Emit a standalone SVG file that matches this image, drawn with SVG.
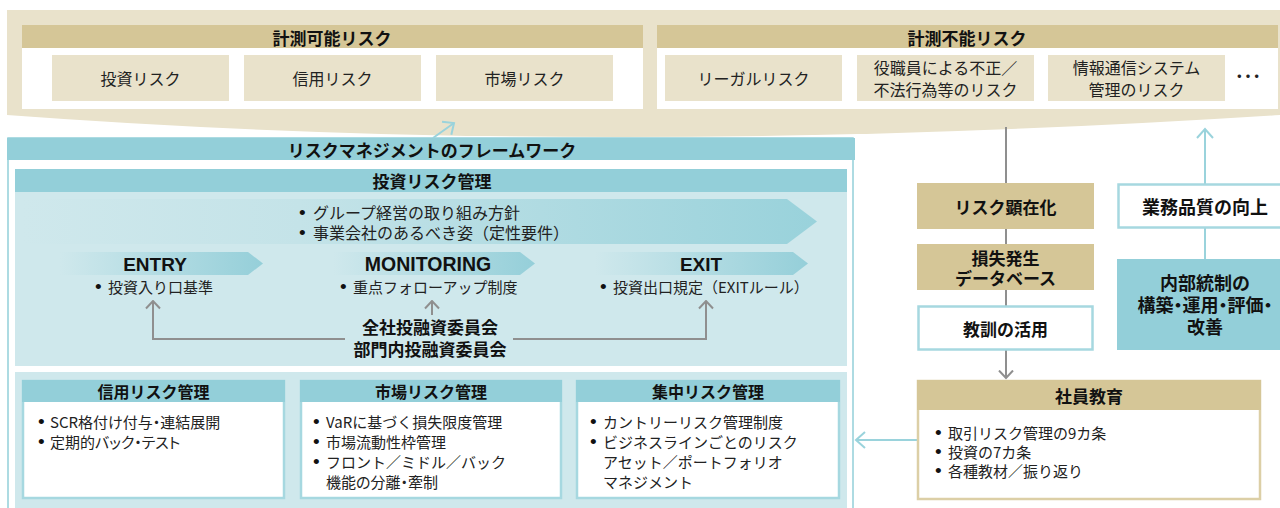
<svg xmlns="http://www.w3.org/2000/svg" width="1280" height="508" viewBox="0 0 1280 508">
<defs>
<style>
.t{font-family:"Noto Sans CJK JP","Noto Sans",sans-serif;fill:#222;}
.b{font-weight:bold;fill:#111;}
.c{text-anchor:middle;}
.p{font-feature-settings:"palt";}
.bl{font-family:"Liberation Sans",Arial,sans-serif;font-size:19px;fill:#111;}
.en{font-family:"Liberation Sans",Arial,sans-serif;font-weight:bold;fill:#111;text-anchor:middle;}
.band{fill:#E9E2CB;}
.tan{fill:#D5C697;}
.item{fill:#E9E2CB;}
.teal{fill:#93CFD9;}
.lteal{fill:#CFE8EC;}
.wbox{fill:#fff;stroke:#A6D8E0;stroke-width:2.5;}
.gline{fill:none;stroke:#8F8F8F;stroke-width:2;}
.tline{fill:none;stroke:#9AD3DC;stroke-width:2;}
</style>
<linearGradient id="bigG" x1="0" y1="0" x2="1" y2="0">
<stop offset="0" stop-color="#CFE8EC"/>
<stop offset="0.35" stop-color="#C4E3E8"/>
<stop offset="1" stop-color="#99D2DB"/>
</linearGradient>
<linearGradient id="chG" x1="0" y1="0" x2="1" y2="0">
<stop offset="0" stop-color="#CFE8EC"/>
<stop offset="1" stop-color="#95CFD9"/>
</linearGradient>
<marker id="ag" viewBox="0 0 10 16" refX="8.5" refY="8" markerWidth="10" markerHeight="16" markerUnits="userSpaceOnUse" orient="auto">
<path d="M1,1 L8.5,8 L1,15" fill="none" stroke="#8F8F8F" stroke-width="2"/>
</marker>
<marker id="at" viewBox="0 0 12 18" refX="10" refY="9" markerWidth="12" markerHeight="18" markerUnits="userSpaceOnUse" orient="auto">
<path d="M1,1 L10,9 L1,17" fill="none" stroke="#9AD3DC" stroke-width="2"/>
</marker>
</defs>
<rect width="1280" height="508" fill="#fff"/>

<!-- top band -->
<g id="top-band">
<path class="band" d="M7,10 H1280 V115 Q596,159 7,115 Z"/>
</g>
<g id="measurable">
<rect x="22" y="25" width="621" height="84" fill="#fff"/>
<rect class="tan" x="22" y="25" width="621" height="23"/>
<text class="t b c" x="332" y="37" font-size="17" dominant-baseline="central">計測可能リスク</text>
</g>
<g id="invest-risk"><rect class="item" x="52" y="55" width="177" height="46"/><text class="t c" x="140.5" y="78" font-size="16" dominant-baseline="central">投資リスク</text></g>
<g id="credit-risk"><rect class="item" x="244" y="55" width="177" height="46"/><text class="t c" x="332.5" y="78" font-size="16" dominant-baseline="central">信用リスク</text></g>
<g id="market-risk"><rect class="item" x="436" y="55" width="177" height="46"/><text class="t c" x="524.5" y="78" font-size="16" dominant-baseline="central">市場リスク</text></g>
<g id="unmeasurable">
<rect x="657" y="25" width="621" height="84" fill="#fff"/>
<rect class="tan" x="657" y="25" width="621" height="23"/>
<text class="t b c" x="967" y="37" font-size="17" dominant-baseline="central">計測不能リスク</text>
</g>
<g id="legal-risk"><rect class="item" x="665" y="55" width="177" height="46"/><text class="t c" x="753.5" y="78" font-size="16" dominant-baseline="central">リーガルリスク</text></g>
<g id="fraud-risk"><rect class="item" x="857" y="55" width="177" height="46"/><text class="t c" x="945.5" y="67" font-size="16" dominant-baseline="central">役職員による不正／</text><text class="t c" x="945.5" y="89" font-size="16" dominant-baseline="central">不法行為等のリスク</text></g>
<g id="it-risk"><rect class="item" x="1048" y="55" width="177" height="46"/><text class="t c" x="1136.5" y="67" font-size="16" dominant-baseline="central">情報通信システム</text><text class="t c" x="1136.5" y="89" font-size="16" dominant-baseline="central">管理のリスク</text></g>
<g id="etc"><text class="t c" x="1248" y="74" font-size="26" dominant-baseline="central">…</text></g>

<!-- framework -->
<g id="framework">
<rect x="8" y="138" width="845" height="380" fill="#fff" stroke="#93CFD9" stroke-width="1.5"/>
<rect class="teal" x="7" y="138" width="848" height="22"/>
<text class="t b c" x="432" y="149" font-size="17" dominant-baseline="central">リスクマネジメントのフレームワーク</text>
</g>
<g id="invest-mgmt">
<rect class="lteal" x="15" y="169" width="832" height="197"/>
<rect class="teal" x="15" y="169" width="832" height="23"/>
<text class="t b c" x="432" y="180.5" font-size="17" dominant-baseline="central">投資リスク管理</text>
<path fill="url(#bigG)" d="M22,199 H787 L817,221.5 L787,244 H22 Z"/>
<text class="t" x="299" y="212" font-size="16" dominant-baseline="central"><tspan class="bl">•</tspan><tspan x="313">グループ経営の取り組み方針</tspan></text>
<text class="t" x="299" y="232" font-size="16" dominant-baseline="central"><tspan class="bl">•</tspan><tspan x="313">事業会社のあるべき姿（定性要件）</tspan></text>
</g>
<g id="entry">
<path fill="url(#chG)" d="M60,252 H248 L263,263.5 L248,275 H60 Z"/>
<text class="en" x="155" y="270.5" font-size="19">ENTRY</text>
<text class="t" x="95" y="286" font-size="15" dominant-baseline="central"><tspan class="bl">•</tspan><tspan x="108">投資入り口基準</tspan></text>
</g>
<g id="monitoring">
<path fill="url(#chG)" d="M333,252 H520 L535,263.5 L520,275 H333 Z"/>
<text class="en" x="428" y="270.5" font-size="19.5">MONITORING</text>
<text class="t" x="340" y="286" font-size="15" dominant-baseline="central"><tspan class="bl">•</tspan><tspan x="353">重点フォローアップ制度</tspan></text>
</g>
<g id="exit">
<path fill="url(#chG)" d="M595,252 H793 L808,263.5 L793,275 H595 Z"/>
<text class="en" x="701" y="270.5" font-size="19">EXIT</text>
<text class="t" x="600" y="286" font-size="15" dominant-baseline="central"><tspan class="bl">•</tspan><tspan x="613">投資出口規定（EXITルール）</tspan></text>
</g>
<g id="committee">
<text class="t b c" x="430" y="326" font-size="17" dominant-baseline="central">全社投融資委員会</text>
<text class="t b c" x="430" y="348" font-size="17" dominant-baseline="central">部門内投融資委員会</text>
</g>
<g id="lower-panel"><rect class="lteal" x="15" y="372" width="832" height="140"/></g>
<g id="credit-mgmt">
<rect class="wbox" x="23" y="381" width="261" height="117"/>
<rect class="teal" x="22" y="380" width="263" height="22"/>
<text class="t b c" x="153.5" y="391" font-size="16" dominant-baseline="central">信用リスク管理</text>
<text class="t p" x="38" y="421" font-size="15" dominant-baseline="central"><tspan class="bl">•</tspan><tspan x="50">SCR格付け付与・連結展開</tspan></text>
<text class="t p" x="38" y="441" font-size="15" dominant-baseline="central"><tspan class="bl">•</tspan><tspan x="50">定期的バック・テスト</tspan></text>
</g>
<g id="market-mgmt">
<rect class="wbox" x="301" y="381" width="260" height="117"/>
<rect class="teal" x="300" y="380" width="262" height="22"/>
<text class="t b c" x="431" y="391" font-size="16" dominant-baseline="central">市場リスク管理</text>
<text class="t" x="313" y="421" font-size="15" dominant-baseline="central"><tspan class="bl">•</tspan><tspan x="326">VaRに基づく損失限度管理</tspan></text>
<text class="t" x="313" y="441" font-size="15" dominant-baseline="central"><tspan class="bl">•</tspan><tspan x="326">市場流動性枠管理</tspan></text>
<text class="t" x="313" y="461" font-size="15" dominant-baseline="central"><tspan class="bl">•</tspan><tspan x="326">フロント／ミドル／バック</tspan></text>
<text class="t p" x="326" y="481" font-size="15" dominant-baseline="central">機能の分離・牽制</text>
</g>
<g id="conc-mgmt">
<rect class="wbox" x="577" y="381" width="262" height="117"/>
<rect class="teal" x="576" y="380" width="264" height="22"/>
<text class="t b c" x="708" y="391" font-size="16" dominant-baseline="central">集中リスク管理</text>
<text class="t" x="590" y="421" font-size="15" dominant-baseline="central"><tspan class="bl">•</tspan><tspan x="603">カントリーリスク管理制度</tspan></text>
<text class="t" x="590" y="441" font-size="15" dominant-baseline="central"><tspan class="bl">•</tspan><tspan x="603">ビジネスラインごとのリスク</tspan></text>
<text class="t" x="603" y="461" font-size="15" dominant-baseline="central">アセット／ポートフォリオ</text>
<text class="t" x="603" y="481" font-size="15" dominant-baseline="central">マネジメント</text>
</g>

<!-- connectors -->
<g id="connectors">
<path class="gline" d="M345,339 H153 V301" marker-end="url(#ag)"/>
<path class="gline" d="M432,315 V301" marker-end="url(#ag)"/>
<path class="gline" d="M513,339 H706 V301" marker-end="url(#ag)"/>
<path class="gline" d="M1006,127 V378" marker-end="url(#ag)"/>
<path class="tline" d="M1205,259 V129" marker-end="url(#at)"/>
<path class="tline" d="M917,440 H856" marker-end="url(#at)"/>
<path class="tline" d="M433,138 L454,123" marker-end="url(#at)"/>
</g>

<!-- right side -->
<g id="risk-emerge"><rect class="tan" x="917" y="183" width="177" height="46"/><text class="t b c" x="1005.5" y="206" font-size="17" dominant-baseline="central">リスク顕在化</text></g>
<g id="loss-db"><rect class="tan" x="917" y="244" width="177" height="46"/><text class="t b c" x="1005.5" y="257" font-size="17" dominant-baseline="central">損失発生</text><text class="t b c" x="1005.5" y="277" font-size="17" dominant-baseline="central">データベース</text></g>
<g id="lessons"><rect class="wbox" x="918.5" y="306.5" width="174" height="43"/><text class="t b c" x="1005.5" y="328" font-size="17" dominant-baseline="central">教訓の活用</text></g>
<g id="education">
<rect x="918" y="381" width="342" height="118" fill="#fff" stroke="#DCCFA6" stroke-width="2.5"/>
<rect class="tan" x="917" y="380" width="344" height="30"/>
<text class="t b c" x="1089" y="395" font-size="17" dominant-baseline="central">社員教育</text>
<text class="t" x="935" y="432" font-size="15" dominant-baseline="central"><tspan class="bl">•</tspan><tspan x="948">取引リスク管理の9カ条</tspan></text>
<text class="t" x="935" y="451" font-size="15" dominant-baseline="central"><tspan class="bl">•</tspan><tspan x="948">投資の7カ条</tspan></text>
<text class="t" x="935" y="470" font-size="15" dominant-baseline="central"><tspan class="bl">•</tspan><tspan x="948">各種教材／振り返り</tspan></text>
</g>
<g id="quality"><rect class="wbox" x="1118.5" y="184.5" width="165" height="43"/><text class="t b c" x="1205" y="206" font-size="18" dominant-baseline="central">業務品質の向上</text></g>
<g id="internal-control">
<rect class="teal" x="1117" y="259" width="163" height="91"/>
<text class="t b c" x="1205" y="282" font-size="18" dominant-baseline="central">内部統制の</text>
<text class="t b c p" x="1205" y="304" font-size="18" dominant-baseline="central">構築・運用・評価・</text>
<text class="t b c" x="1205" y="326" font-size="18" dominant-baseline="central">改善</text>
</g>
</svg>
